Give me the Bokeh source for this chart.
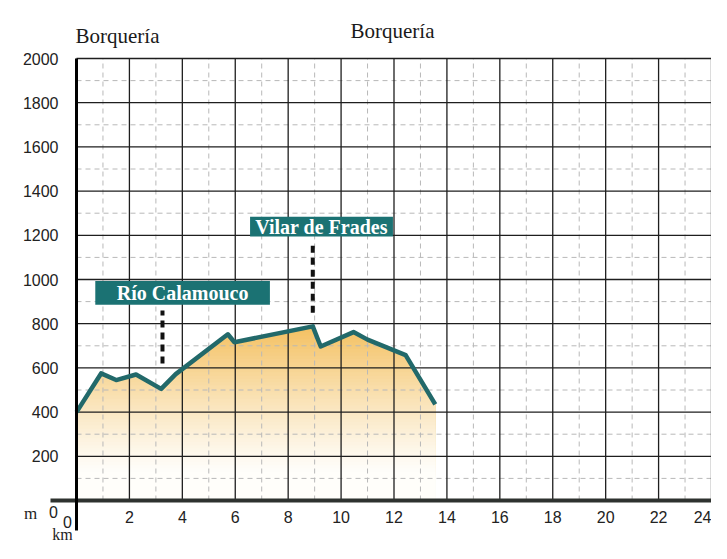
import numpy as np
from bokeh.plotting import figure
from bokeh.models import Range1d, FixedTicker, LinearAxis
from bokeh.core.properties import value
from bokeh.embed import file_html
from bokeh.resources import INLINE

# ---- data ----
km = [0, 0.93, 1.5, 2.25, 3.2, 3.75, 5.72, 5.97, 8.93, 9.23, 10.47, 11.0, 12.44, 13.56]
elev = [400, 575, 545, 570, 505, 572, 752, 716, 788, 697, 762, 728, 658, 435]

x_ticks = [2, 4, 6, 8, 10, 12, 14, 16, 18, 20, 22, 24]
y_ticks = [200, 400, 600, 800, 1000, 1200, 1400, 1600, 1800, 2000]
x_minor = [1, 3, 5, 7, 9, 11, 13, 15, 17, 19, 21, 23]
y_minor = [100, 300, 500, 700, 900, 1100, 1300, 1500, 1700, 1900]

place_names = ["Río Calamouco", "Vilar de Frades"]
place_km = [3.25, 8.93]
title_text = "Borquería"

# ---- layout ----
W, H = 711, 543
X0 = 76                      # pixel position of km 0
ppk = (W - X0) / 24.0
Y0, Y2000 = 500, 58          # pixel rows of 0 m and 2000 m
ppm = (Y0 - Y2000) / 2000.0
p = figure(width=W, height=H, output_backend="svg", toolbar_location=None,
           x_range=Range1d(-X0 / ppk, 24),
           y_range=Range1d(-(H - Y0) / ppm, 2000 + Y2000 / ppm),
           x_axis_location=None, y_axis_location=None, min_border=0,
           outline_line_color=None, background_fill_color="white",
           border_fill_color="white")
p.xgrid.visible = False
p.ygrid.visible = False

# ---- gradient fill under profile ----
xs = np.linspace(km[0], km[-1], 600)
prof = np.interp(xs, km, elev)
white = np.array([255, 254, 250])
orange = np.array([244, 192, 96])
levels = np.arange(820, 0, -15)
for hi in levels:
    t = np.clip((hi - 140) / 660.0, 0, 1) ** 1.15
    c = (white * (1 - t) + orange * t).astype(int)
    p.varea(x=xs, y1=np.zeros_like(xs), y2=np.minimum(prof, hi),
            fill_color="#%02x%02x%02x" % tuple(c))

# ---- grid ----
p.segment(x0=x_minor, y0=[0] * len(x_minor), x1=x_minor, y1=[2000] * len(x_minor),
          line_color="#b8b8b8", line_width=1, line_dash="5 4")
p.segment(x0=[0] * len(y_minor), y0=y_minor, x1=[24] * len(y_minor), y1=y_minor,
          line_color="#b8b8b8", line_width=1, line_dash="5 4")
p.segment(x0=x_ticks, y0=[0] * len(x_ticks), x1=x_ticks, y1=[2000] * len(x_ticks),
          line_color="#1e1e1e", line_width=1.3)
p.segment(x0=[0] * len(y_ticks), y0=y_ticks, x1=[24] * len(y_ticks), y1=y_ticks,
          line_color="#1e1e1e", line_width=1.3)

# ---- profile line ----
p.line(km, elev, line_color="#22696a", line_width=4.5, line_join="round")

# ---- place markers ----
p.segment(x0=place_km, y0=[620, 850], x1=place_km, y1=[860, 1165],
          line_color="#111111", line_width=4, line_dash="7 5")
p.quad(left=[0.71, 6.56], right=[7.31, 11.96], bottom=[886, 1195], top=[993, 1284],
       fill_color="#1b7273", line_color=None)
p.text(x=[4.01, 9.26], y=[939, 1239], text=place_names,
       text_font=value("Liberation Serif"), text_font_style="bold",
       text_font_size="20px", text_color="white",
       text_align="center", text_baseline="middle")

# ---- axes ----
yaxis = LinearAxis(fixed_location=0, ticker=FixedTicker(ticks=y_ticks),
                   bounds=(-(530 - Y0) / ppm, 2000), axis_line_width=3,
                   axis_line_color="black",
                   major_tick_line_color=None, minor_tick_line_color=None,
                   major_tick_in=0, major_tick_out=0, major_label_standoff=18,
                   major_label_text_font="Liberation Sans",
                   major_label_text_font_size="16px",
                   major_label_text_color="#222222")
p.add_layout(yaxis, "left")
xaxis = LinearAxis(fixed_location=0, ticker=FixedTicker(ticks=x_ticks),
                   bounds=(-1.0, 24), axis_line_width=4, axis_line_color="#2e322f",
                   major_tick_line_color=None, minor_tick_line_color=None,
                   major_tick_in=0, major_tick_out=0, major_label_standoff=10,
                   major_label_text_font="Liberation Sans",
                   major_label_text_font_size="16px",
                   major_label_text_color="#222222")
p.add_layout(xaxis, "below")

# ---- titles and unit labels ----
p.text(x=[(75 - X0) / ppk, (350 - X0) / ppk],
       y=[(Y0 - 35) / ppm, (Y0 - 30) / ppm], text=[title_text, title_text],
       text_font=value("Liberation Serif"), text_font_size="21px",
       text_color="#1a1a1a", text_align="left", text_baseline="alphabetic")
p.text(x=[(30 - X0) / ppk], y=[-(513 - Y0) / ppm], text=["m"],
       text_font=value("Liberation Serif"), text_font_size="17px",
       text_color="#222222", text_align="center", text_baseline="middle")
p.text(x=[(53 - X0) / ppk], y=[-(511 - Y0) / ppm], text=["0"],
       text_font=value("Liberation Sans"), text_font_size="16px",
       text_color="#222222", text_align="center", text_baseline="middle")
p.text(x=[(67 - X0) / ppk], y=[-(521 - Y0) / ppm], text=["0"],
       text_font=value("Liberation Sans"), text_font_size="16px",
       text_color="#222222", text_align="center", text_baseline="middle")
p.text(x=[(62 - X0) / ppk], y=[-(534 - Y0) / ppm], text=["km"],
       text_font=value("Liberation Serif"), text_font_size="16px",
       text_color="#222222", text_align="center", text_baseline="alphabetic")

open("out.html", "w").write(file_html(p, INLINE))
